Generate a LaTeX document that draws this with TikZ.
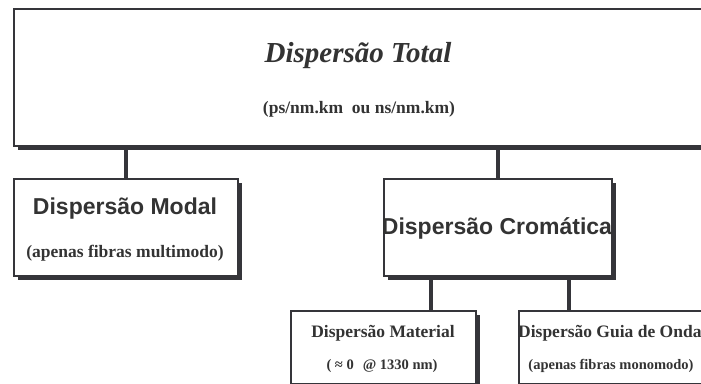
\documentclass[tikz,border=0pt]{standalone}
\usepackage{fontspec}
\setmainfont{Liberation Serif}
\newfontfamily\arialfont{Liberation Sans}
\usetikzlibrary{shadows}
\definecolor{lc}{HTML}{35353A}
\definecolor{tc}{HTML}{333333}
\tikzset{
  box/.style={draw=lc, line width=2pt, fill=white, rectangle, inner sep=0pt, anchor=north west,
    drop shadow={shadow xshift=4pt, shadow yshift=-4pt, fill=lc, opacity=1}},
  conn/.style={draw=lc, line width=4pt},
  lbl/.style={text=tc, inner sep=0pt, anchor=base},
  ttl/.style={lbl, font=\fontsize{29}{34}\selectfont\bfseries\itshape},
  sub/.style={lbl, font=\fontsize{17.5}{20}\selectfont\bfseries},
  subs/.style={lbl, font=\fontsize{14.5}{17}\selectfont\bfseries},
  sans/.style={lbl, font=\fontsize{23}{27}\selectfont\arialfont\bfseries}
}
\begin{document}
\begin{tikzpicture}[x=1pt,y=-1pt]
\useasboundingbox (0,0) rectangle (701,383);
\clip (0,0) rectangle (701,383);
% boxes
\node[box, minimum width=707pt, minimum height=137pt] (top) at (13,8) {};
\node[box, minimum width=224pt, minimum height=97pt] (modal) at (13,178) {};
\node[box, minimum width=228pt, minimum height=97pt] (crom) at (383,178) {};
\node[box, minimum width=185pt, minimum height=72.5pt] (mat) at (290,310) {};
\node[box, minimum width=212pt, minimum height=72.5pt] (guia) at (518,310) {};
% connectors
\draw[conn] (top.south -| modal.north) -- (modal.north);
\draw[conn] (top.south -| crom.north) -- (crom.north);
\draw[conn] (crom.south -| 431,0) -- (mat.north -| 431,0);
\draw[conn] (crom.south -| 569,0) -- (guia.north -| 569,0);
% texts
\node[ttl] (t1) at (358,62) {Dispersão Total};
\node[sub] (t2) at (359,113) {(ps/nm.km\ \ ou ns/nm.km)};
\node[sans] (m1) at (125,214) {Dispersão Modal};
\node[sub] (m2) at (125,257) {(apenas fibras multimodo)};
\node[sans] (c1) at (497,234) {Dispersão Cromática};
\node[sub] (a1) at (383,337) {Dispersão Material};
\node[subs] (a2) at (382,369) {( ≈ 0\hspace{9pt}@ 1330 nm)};
\node[sub, anchor=base west] (g1) at (518,337) {Dispersão Guia de Onda};
\node[subs] (g2) at (611,369) {(apenas fibras monomodo)};
\end{tikzpicture}
\end{document}
